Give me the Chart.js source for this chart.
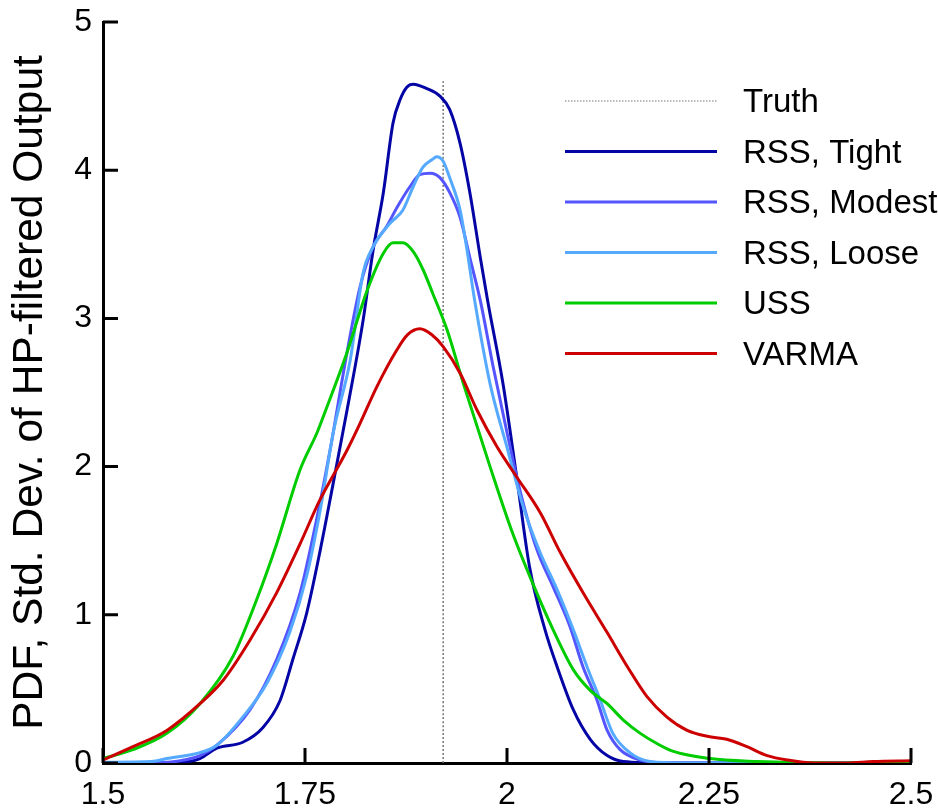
<!DOCTYPE html>
<html>
<head>
<meta charset="utf-8">
<script src="https://cdn.jsdelivr.net/npm/chart.js@4.4.1/dist/chart.umd.min.js"></script>
<style>
  html, body { margin: 0; padding: 0; background: #fff; }
  #wrap { width: 938px; height: 811px; }
</style>
</head>
<body>
<div id="wrap"><canvas id="pdfChart" width="938" height="811"></canvas></div>
<script>
// tick values
var xTicks = [1.5, 1.75, 2, 2.25, 2.5];
var yTicks = [0, 1, 2, 3, 4, 5];

var seriesNames = ['Truth', 'RSS, Tight', 'RSS, Modest', 'RSS, Loose', 'USS', 'VARMA'];
var seriesColors = ['#777777', '#0505A5', '#5555FF', '#55AAFF', '#00CC00', '#CC0000'];

// truth marker
var truthX = [1.921, 1.921];
var truthY = [0, 4.6];

// densities
var tightX = [1.5, 1.58, 1.6, 1.62, 1.641, 1.673, 1.698, 1.719, 1.735, 1.752, 1.769, 1.785, 1.802, 1.822, 1.834, 1.847, 1.859, 1.868, 1.876, 1.884, 1.901, 1.917, 1.929, 1.942, 1.954, 1.967, 1.976, 1.995, 2.012, 2.028, 2.047, 2.062, 2.082, 2.103, 2.124, 2.144, 2.2, 2.5];
var tightY = [0, 0, 0.005, 0.03, 0.10, 0.14, 0.24, 0.42, 0.70, 1.01, 1.44, 1.89, 2.38, 2.99, 3.45, 3.85, 4.32, 4.48, 4.56, 4.58, 4.55, 4.50, 4.41, 4.18, 3.85, 3.41, 3.12, 2.56, 1.93, 1.32, 0.90, 0.65, 0.36, 0.16, 0.05, 0.01, 0, 0];

var modestX = [1.5, 1.58, 1.6, 1.62, 1.641, 1.682, 1.715, 1.744, 1.765, 1.781, 1.802, 1.818, 1.834, 1.851, 1.864, 1.88, 1.892, 1.905, 1.917, 1.929, 1.942, 1.954, 1.967, 1.983, 2.0, 2.016, 2.037, 2.057, 2.078, 2.094, 2.111, 2.124, 2.14, 2.165, 2.2, 2.5];
var modestY = [0, 0.005, 0.02, 0.05, 0.12, 0.36, 0.70, 1.15, 1.66, 2.11, 2.77, 3.21, 3.48, 3.62, 3.75, 3.89, 3.97, 3.98, 3.95, 3.85, 3.68, 3.41, 3.12, 2.67, 2.23, 1.84, 1.44, 1.19, 0.92, 0.65, 0.43, 0.22, 0.09, 0.02, 0, 0];

var looseX = [1.5, 1.56, 1.579, 1.62, 1.641, 1.673, 1.703, 1.731, 1.752, 1.769, 1.785, 1.806, 1.822, 1.834, 1.855, 1.871, 1.884, 1.896, 1.907, 1.913, 1.921, 1.929, 1.942, 1.95, 1.96, 1.979, 2.0, 2.02, 2.041, 2.062, 2.082, 2.099, 2.115, 2.131, 2.152, 2.177, 2.22, 2.5];
var looseY = [0.005, 0.01, 0.03, 0.07, 0.12, 0.31, 0.54, 0.88, 1.26, 1.71, 2.23, 2.72, 3.31, 3.48, 3.64, 3.73, 3.89, 4.02, 4.07, 4.09, 4.06, 3.95, 3.73, 3.48, 3.12, 2.56, 2.13, 1.73, 1.42, 1.17, 0.90, 0.65, 0.43, 0.20, 0.07, 0.01, 0, 0];

var ussX = [1.5, 1.537, 1.579, 1.62, 1.661, 1.69, 1.715, 1.744, 1.765, 1.777, 1.802, 1.827, 1.847, 1.859, 1.871, 1.884, 1.896, 1.908, 1.926, 1.946, 1.979, 2.007, 2.032, 2.057, 2.082, 2.103, 2.124, 2.144, 2.165, 2.186, 2.205, 2.251, 2.309, 2.4, 2.5];
var ussY = [0.03, 0.09, 0.20, 0.40, 0.72, 1.10, 1.48, 1.98, 2.23, 2.40, 2.77, 3.19, 3.44, 3.51, 3.51, 3.45, 3.33, 3.17, 2.92, 2.56, 2.0, 1.55, 1.21, 0.90, 0.63, 0.49, 0.40, 0.29, 0.20, 0.13, 0.08, 0.03, 0.01, 0, 0];

var varmaX = [1.5, 1.537, 1.579, 1.62, 1.649, 1.682, 1.715, 1.744, 1.768, 1.802, 1.818, 1.839, 1.864, 1.877, 1.892, 1.907, 1.921, 1.942, 1.963, 1.988, 2.012, 2.041, 2.066, 2.094, 2.124, 2.149, 2.173, 2.198, 2.223, 2.248, 2.272, 2.297, 2.322, 2.347, 2.38, 2.42, 2.453, 2.5];
var varmaY = [0.02, 0.11, 0.22, 0.40, 0.56, 0.83, 1.15, 1.48, 1.77, 2.11, 2.29, 2.54, 2.79, 2.89, 2.93, 2.89, 2.81, 2.63, 2.38, 2.13, 1.93, 1.69, 1.42, 1.15, 0.88, 0.65, 0.45, 0.31, 0.22, 0.18, 0.16, 0.11, 0.05, 0.02, 0, 0, 0.01, 0.015];

function pts(xs, ys) {
    return xs.map(function (x, i) { return { x: x, y: ys[i] }; });
}

var FONT = '"Liberation Sans", Arial, sans-serif';

// inward tick marks drawn from the scales
var innerTicks = {
    id: 'innerTicks',
    afterDraw: function (chart) {
        var ctx = chart.ctx, a = chart.chartArea;
        var xs = chart.scales.x, ys = chart.scales.y;
        ctx.save();
        ctx.strokeStyle = '#000';
        ctx.lineWidth = 3;
        ctx.beginPath();
        xTicks.forEach(function (v) {
            var px = xs.getPixelForValue(v);
            ctx.moveTo(px, a.bottom);
            ctx.lineTo(px, a.bottom - 15);
        });
        yTicks.forEach(function (v) {
            var py = ys.getPixelForValue(v);
            ctx.moveTo(a.left, py);
            ctx.lineTo(a.left + 15, py);
        });
        ctx.stroke();
        ctx.restore();
    }
};

// legend inside the plot, top right
var lineLegend = {
    id: 'lineLegend',
    afterDraw: function (chart) {
        var ctx = chart.ctx;
        ctx.save();
        ctx.font = '33px ' + FONT;
        ctx.textAlign = 'left';
        ctx.textBaseline = 'alphabetic';
        chart.data.datasets.forEach(function (ds, i) {
            var y = 101 + i * 50.5;
            ctx.strokeStyle = ds.borderColor;
            ctx.lineWidth = i === 0 ? 1 : ds.borderWidth;
            ctx.setLineDash(i === 0 ? [1.5, 1.5] : []);
            ctx.beginPath();
            ctx.moveTo(565, y);
            ctx.lineTo(717, y);
            ctx.stroke();
            ctx.setLineDash([]);
            ctx.fillStyle = '#000';
            ctx.fillText(ds.label, 743, y + 11);
        });
        ctx.restore();
    }
};

var allX = [truthX, tightX, modestX, looseX, ussX, varmaX];
var allY = [truthY, tightY, modestY, looseY, ussY, varmaY];

var datasets = seriesNames.map(function (name, i) {
    return {
        label: name,
        data: pts(allX[i], allY[i]),
        borderColor: seriesColors[i],
        backgroundColor: seriesColors[i],
        borderWidth: i === 0 ? 1.5 : 3,
        borderDash: i === 0 ? [2, 2] : [],
        pointRadius: 0,
        cubicInterpolationMode: 'monotone',
        fill: false,
        order: i === 0 ? 10 : 5 - i
    };
});

var ctx = document.getElementById('pdfChart').getContext('2d');
var pdfChart = new Chart(ctx, {
    type: 'line',
    data: { datasets: datasets },
    plugins: [innerTicks, lineLegend],
    options: {
        responsive: false,
        animation: false,
        layout: { padding: { top: 22, right: 27, left: 0, bottom: 0 } },
        plugins: {
            legend: { display: false },
            tooltip: { enabled: false }
        },
        scales: {
            x: {
                type: 'linear',
                min: 1.5,
                max: 2.5,
                afterBuildTicks: function (scale) {
                    scale.ticks = xTicks.map(function (v) { return { value: v }; });
                },
                afterFit: function (scale) {
                    scale.height = 48;
                    scale.paddingLeft = 0;
                    scale.paddingRight = 0;
                },
                ticks: {
                    color: '#000',
                    font: { family: FONT, size: 32 },
                    padding: 13,
                    maxRotation: 0,
                    callback: function (v) { return String(v); }
                },
                grid: { display: false, drawTicks: false },
                border: { display: true, color: '#000', width: 3 }
            },
            y: {
                min: 0,
                max: 5,
                afterBuildTicks: function (scale) {
                    scale.ticks = yTicks.map(function (v) { return { value: v }; });
                },
                afterFit: function (scale) {
                    scale.width = 103;
                    scale.paddingTop = 0;
                    scale.paddingBottom = 0;
                },
                ticks: {
                    color: '#000',
                    font: { family: FONT, size: 32 },
                    padding: 11,
                    callback: function (v) { return String(v); }
                },
                title: {
                    display: true,
                    text: 'PDF, Std. Dev. of HP-filtered Output',
                    color: '#000',
                    font: { family: FONT, size: 42.5 },
                    padding: { top: 5, bottom: 0 }
                },
                grid: { display: false, drawTicks: false },
                border: { display: true, color: '#000', width: 3 }
            }
        }
    }
});
</script>
</body>
</html>
